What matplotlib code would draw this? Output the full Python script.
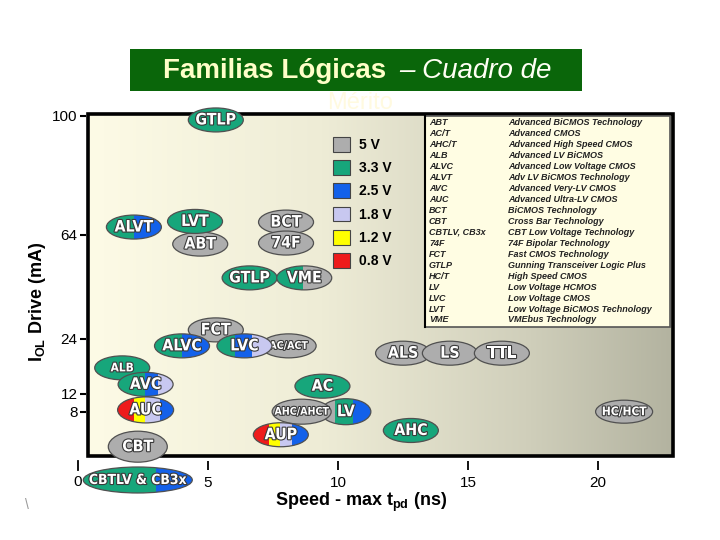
import numpy as np
import matplotlib
matplotlib.use("Agg")
import matplotlib.pyplot as plt
import matplotlib.patheffects as pe
from matplotlib import font_manager as fm
from matplotlib.patches import Ellipse, Rectangle, Patch
from matplotlib.transforms import ScaledTranslation
from matplotlib.colors import LinearSegmentedColormap

plt.rcParams['font.family'] = ['Liberation Sans', 'DejaVu Sans']
plt.rcParams['mathtext.fontset'] = 'custom'
plt.rcParams['mathtext.rm'] = 'Liberation Sans'
plt.rcParams['mathtext.bf'] = 'Liberation Sans:bold'
plt.rcParams['mathtext.it'] = 'Liberation Sans:italic'

# supply voltage colour code
volt_labels = ['5 V', '3.3 V', '2.5 V', '1.8 V', '1.2 V', '0.8 V']
volt_colors = ['#adadad', '#17a67b', '#1361ea', '#c8c8f0', '#ffff00', '#ee1b1b']

# logic families: speed (max tpd, ns) and IOL drive (mA)
families = ['GTLP', 'ALVT', 'ABT', 'LVT', 'BCT', '74F', 'GTLP', 'VME', 'FCT',
            'AC/ACT', 'ALVC', 'LVC', 'ALB', 'AVC', 'AUC', 'CBT', 'CBTLV & CB3x',
            'AC', 'LV', 'AHC/AHCT', 'AUP', 'ALS', 'LS', 'TTL', 'AHC', 'HC/HCT']
speed_ns = [5.3, 2.15, 4.7, 4.5, 8.0, 8.0, 6.6, 8.7, 5.3,
            8.1, 4.0, 6.4, 1.7, 2.6, 2.6, 2.3, 2.3,
            9.4, 10.3, 8.6, 7.8, 12.5, 14.3, 16.3, 12.8, 21.0]
drive_ma = [98.8, 66.4, 60.5, 68.1, 67.9, 60.9, 47.5, 47.5, 27.5,
            22.5, 22.5, 22.5, 17.7, 14.1, 8.4, 3.9, 0.0,
            13.7, 8.0, 8.0, 5.3, 20.9, 20.9, 20.9, 5.8, 8.0]
# supply voltages of each family (index in volt_labels, share of bubble)
mix = [[(1, 1)], [(1, .5), (2, .5)], [(0, 1)], [(1, 1)], [(0, 1)], [(0, 1)],
       [(1, 1)], [(1, .48), (0, .52)], [(0, 1)],
       [(0, 1)], [(1, .5), (2, .5)], [(1, .32), (2, .32), (3, .36)],
       [(1, 1)], [(1, .49), (2, .24), (3, .27)],
       [(5, .30), (4, .19), (3, .27), (2, .24)], [(0, 1)], [(1, .67), (2, .33)],
       [(1, 1)], [(0, .28), (1, .37), (2, .35)], [(0, 1)],
       [(5, .29), (4, .19), (3, .22), (2, .30)],
       [(0, 1)], [(0, 1)], [(0, 1)], [(1, 1)], [(0, 1)]]

# abbreviation table
abbrevs = ['ABT', 'AC/T', 'AHC/T', 'ALB', 'ALVC', 'ALVT', 'AVC', 'AUC', 'BCT',
           'CBT', 'CBTLV, CB3x', '74F', 'FCT', 'GTLP', 'HC/T', 'LV', 'LVC',
           'LVT', 'VME']
descriptions = ['Advanced BiCMOS Technology', 'Advanced CMOS',
                'Advanced High Speed CMOS', 'Advanced LV BiCMOS',
                'Advanced Low Voltage CMOS', 'Adv LV BiCMOS Technology',
                'Advanced Very-LV CMOS', 'Advanced Ultra-LV CMOS',
                'BiCMOS Technology', 'Cross Bar Technology',
                'CBT Low Voltage Technology', '74F Bipolar Technology',
                'Fast CMOS Technology', 'Gunning Transceiver Logic Plus',
                'High Speed CMOS', 'Low Voltage HCMOS', 'Low Voltage CMOS',
                'Low Voltage BiCMOS Technology', 'VMEbus Technology']

x_ticks = [5, 10, 15, 20]
y_ticks = [8, 12, 24, 64, 100]

# bubble sizes (px) and label sizes (pt)
bubble_px = {'CBTLV & CB3x': (109, 26), 'CBT': (59, 31), 'AHC/AHCT': (59, 25),
             'LV': (50, 26), 'AUC': (56, 26), 'HC/HCT': (57, 23)}
label_pt = {'ALB': 9, 'AC/ACT': 8, 'AHC/AHCT': 8, 'HC/HCT': 9,
            'CBTLV & CB3x': 10.5}

# pick a condensed face for the bubble labels
ttf = fm.fontManager.ttflist
names = {f.name for f in ttf}
if 'Liberation Sans Narrow' in names:
    label_font, label_scale = dict(family='Liberation Sans Narrow'), 1.0
elif 'DejaVu Sans Condensed' in names:
    label_font, label_scale = dict(family='DejaVu Sans Condensed'), 0.95
elif any(f.name == 'DejaVu Sans' and f.stretch == 'condensed' for f in ttf):
    label_font, label_scale = dict(family='DejaVu Sans', stretch='condensed'), 0.95
else:
    label_font, label_scale = dict(family='Liberation Sans'), 0.84

# the drive axis of the chart is not linear
Y_VAL = [-20, 0, 8, 12, 24, 64, 100, 200]
Y_POS = [-170.8, 0, 68.3, 86, 141, 245, 364, 694.6]


def fwd(v):
    return np.interp(v, Y_VAL, Y_POS)


def inv(p):
    return np.interp(p, Y_POS, Y_VAL)


fig = plt.figure(figsize=(7.2, 5.4), dpi=100)
rect = [88 / 720, 1 - 456 / 540, 585 / 720, 342 / 540]

# background gradient
bg = fig.add_axes(rect, zorder=0)
cmap = LinearSegmentedColormap.from_list(
    "", [(0, '#fdfbe6'), (0.4, '#eeecd6'), (0.75, '#d0cfbb'), (1, '#b3b3a0')])
bg.imshow(np.linspace(0, 1, 256)[None, :], cmap=cmap, aspect='auto',
          extent=(0, 1, 0, 1))
bg.set_axis_off()

ax = fig.add_axes(rect, zorder=1)
ax.set_facecolor('none')
ax.set_yscale('function', functions=(fwd, inv))
ax.set_xlim(0.385, 22.88)
ax.set_ylim(2.81, 100.6)
for s in ax.spines.values():
    s.set_visible(False)
ax.spines['bottom'].set_position(('outward', 3.6))
ax.spines['left'].set_position(('outward', 1.5))
ax.set_xticks(x_ticks)
ax.set_xticklabels([str(t) for t in x_ticks])
ax.set_yticks(y_ticks)
ax.set_yticklabels([str(t) for t in y_ticks])
ax.yaxis.set_minor_locator(matplotlib.ticker.NullLocator())
ax.tick_params(axis='x', direction='out', length=6.5, width=1.3, pad=4,
               labelsize=11)
ax.tick_params(axis='y', direction='out', length=4.5, width=1.5, pad=1.5,
               labelsize=11)
# the 0 tick sits left of the frame
xt = ax.get_xaxis_transform()
ax.plot([0, 0], [-0.0146, -0.041], color='black', lw=1.3, transform=xt,
        clip_on=False)
ax.text(0, -0.076, '0', transform=xt, ha='center', va='center', fontsize=11)

ax.set_xlabel(r'Speed - max $\mathbf{t_{pd}}$ (ns)', fontsize=13,
              fontweight='bold')
ax.xaxis.set_label_coords(0.467, -0.103)
ax.set_ylabel(r'$\mathbf{I_{OL}}$ Drive (mA)', fontsize=13, fontweight='bold')
ax.yaxis.set_label_coords(-0.068, 0.45)

# frame
ax.add_patch(Rectangle((0, 0), 1, 1, transform=ax.transAxes, fill=False,
                       lw=2.6, edgecolor='black', clip_on=False, zorder=2))

# abbreviation table
ax.add_patch(Rectangle((0.576, 0.377), 0.419, 0.617, transform=ax.transAxes,
                       facecolor='#fffde3', edgecolor='#555555', lw=1.2,
                       zorder=2.2))
ax.plot([0.576, 0.576], [0.377, 0.994], color='black', lw=1.5,
        transform=ax.transAxes, zorder=2.3)
rows_y = np.linspace(0.9737, 0.3977, len(abbrevs))
for ry, a, d in zip(rows_y, abbrevs, descriptions):
    ax.text(0.583, ry, a, transform=ax.transAxes, fontsize=6.5,
            fontweight='bold', style='italic', color='#222222', va='center',
            zorder=2.4)
    ax.text(0.718, ry, d, transform=ax.transAxes, fontsize=6.5,
            fontweight='bold', style='italic', color='#222222', va='center',
            zorder=2.4)

# voltage legend
handles = [Patch(facecolor=c, edgecolor='#444444', lw=0.8) for c in volt_colors]
ax.legend(handles, volt_labels, loc='upper left',
          bbox_to_anchor=(0.4188, 0.9327), frameon=False,
          prop=dict(weight='bold', size=10), handlelength=1.25,
          handleheight=1.25, handletextpad=0.6, labelspacing=0.59,
          borderpad=0, borderaxespad=0)

# bubbles
outline = [pe.withStroke(linewidth=1.6, foreground='#3a3a3a')]
for i, (name, xs, yd, parts) in enumerate(zip(families, speed_ns, drive_ma, mix)):
    z = 3 + i * 0.01
    w, h = bubble_px.get(name, (55, 24))
    w, h = w / 100, h / 100
    tr = fig.dpi_scale_trans + ScaledTranslation(xs, yd, ax.transData)
    left = -w / 2
    for vi, share in parts:
        e = Ellipse((0, 0), w, h, transform=tr, facecolor=volt_colors[vi],
                    edgecolor='none', zorder=z)
        ax.add_patch(e)
        e.set_clip_path(Rectangle((left, -h / 2), w * share, h, transform=tr))
        left += w * share
    ax.add_patch(Ellipse((0, 0), w, h, transform=tr, facecolor='none',
                         edgecolor='#505050', lw=0.9, zorder=z + 0.001,
                         clip_on=False))
    ax.text(xs, yd, name, ha='center', va='center', color='white',
            fontsize=label_pt.get(name, 12) * label_scale, fontweight='bold',
            path_effects=outline, zorder=z + 0.002, **label_font)

# title bar
fig.patches.append(Rectangle((130 / 720, 1 - 91 / 540), 452 / 720, 42 / 540,
                             transform=fig.transFigure, facecolor='#0a660a',
                             edgecolor='none', zorder=0))
fig.text(163 / 720, 1 - 71 / 540, 'Familias Lógicas', fontsize=20,
         fontweight='bold', color='#ffffc8', va='center', ha='left')
fig.text(399 / 720, 1 - 71 / 540, '– Cuadro de', fontsize=20,
         style='italic', color='#fffff4', va='center', ha='left')
fig.text(360 / 720, 1 - 103 / 540, 'Mérito', fontsize=17, color='#fffae0',
         va='center', ha='center', zorder=0)
fig.text(27 / 720, 1 - 505 / 540, '\\', fontsize=10, color='#999999',
         va='center', ha='center')

fig.savefig('out.png', dpi=100)
